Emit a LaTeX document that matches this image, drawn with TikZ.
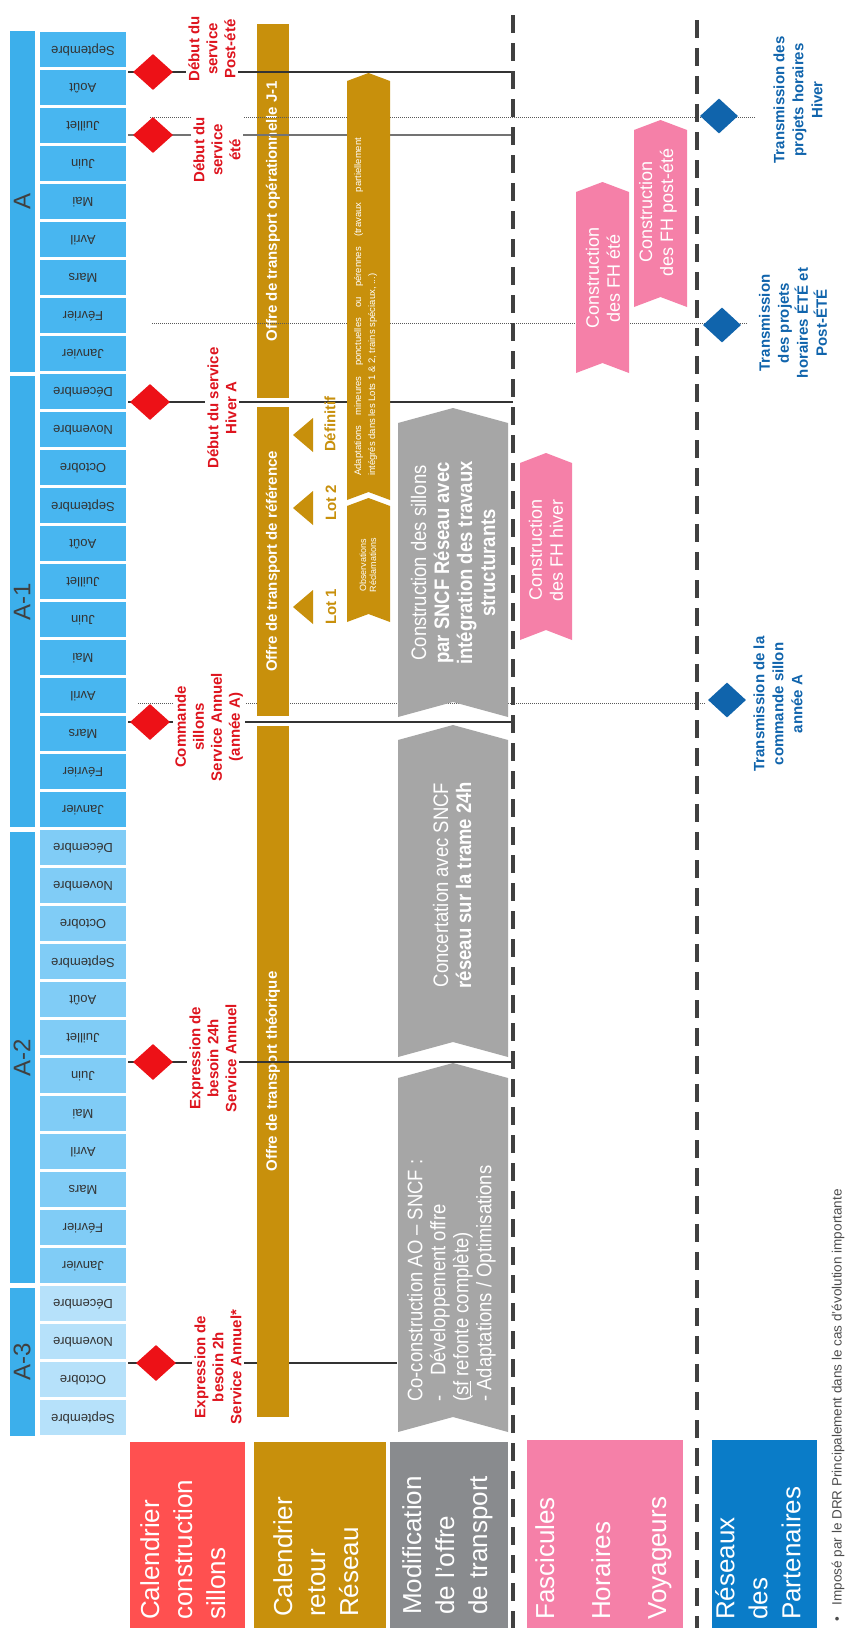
\documentclass[tikz,border=0pt]{standalone}
\usepackage{fontspec}
\setmainfont{Liberation Sans}
\newfontfamily\narrowfont[FakeStretch=0.88]{Liberation Sans}
\usepackage{xcolor}
\usepackage{tikz}
\usetikzlibrary{shapes.geometric}

\definecolor{yearblue}{RGB}{60,175,235}
\definecolor{montha}{RGB}{72,182,240}
\definecolor{monthb}{RGB}{128,204,246}
\definecolor{monthc}{RGB}{182,225,250}
\definecolor{offregold}{RGB}{200,144,12}
\definecolor{chevgrey}{RGB}{166,166,166}
\definecolor{boxgrey}{RGB}{137,139,142}
\definecolor{fhpink}{RGB}{245,128,168}
\definecolor{rowred}{RGB}{255,80,80}
\definecolor{rowblue}{RGB}{10,124,200}
\definecolor{diared}{RGB}{237,17,23}
\definecolor{labred}{RGB}{222,20,30}
\definecolor{diablue}{RGB}{16,100,172}
\definecolor{sepgrey}{RGB}{64,64,64}

% chevron pointing up: colour, x left, x right, y tip, y bottom, depth
\newcommand{\chevronup}[6]{%
  \fill[#1] (#2,#4+#6) -- ({(#2+#3)/2},#4) -- (#3,#4+#6) -- (#3,#5) -- ({(#2+#3)/2},#5-#6) -- (#2,#5) -- cycle;}

\def\monthlist{{"Septembre","Octobre","Novembre","Décembre","Janvier","Février","Mars","Avril","Mai","Juin","Juillet","Août"}}

\begin{document}
\begin{tikzpicture}[x=1pt, y=-1pt,
    tline/.style={line width=1.3pt, black!80},
    dotline/.style={line width=1pt, black!65, densely dotted},
    sepline/.style={line width=4.5pt, sepgrey, dash pattern=on 18pt off 10pt},
    month/.style={rotate=180, font=\fontsize{13}{13}\selectfont, text=black!80},
    yearbar/.style={rotate=90, fill=yearblue, minimum height=25, inner sep=0, font=\fontsize{24}{24}\selectfont, text=black!75},
    goldbar/.style={rotate=90, fill=offregold, minimum height=32, inner sep=0, text=white, font=\bfseries\fontsize{15}{15}\selectfont},
    reddia/.style={diamond, fill=diared, minimum width=40, minimum height=36, inner sep=0},
    bluedia/.style={diamond, fill=diablue, minimum width=38, minimum height=35, inner sep=0},
    redlab/.style={rotate=90, fill=white, inner sep=2pt, align=center, text=labred, font=\bfseries\fontsize{15}{18}\selectfont},
    bluelab/.style={rotate=90, inner sep=2pt, align=center, text=diablue, font=\bfseries\fontsize{15}{19}\selectfont},
    rowlab/.style={rotate=90, anchor=north west, inner sep=0, align=left, text=white, font=\fontsize{26}{33}\selectfont},
    greytext/.style={rotate=90, text=white, font=\narrowfont\fontsize{21}{23}\selectfont},
    pinktext/.style={rotate=90, text=white, align=center, font=\fontsize{18}{21}\selectfont},
    goldtext/.style={rotate=90, text=offregold, font=\bfseries\fontsize{15}{15}\selectfont}]

    % Canvas
    \useasboundingbox (0,0) rectangle (847,1628);
    \fill[white] (0,0) rectangle (847,1628);

    % Draw the month cells
    \foreach \k in {0,...,36} {
        \pgfmathtruncatemacro{\yb}{1437-38*\k}
        \pgfmathtruncatemacro{\mi}{mod(\k,12)}
        \ifnum\k<4 \def\mcol{monthc}\else\ifnum\k<16 \def\mcol{monthb}\else\def\mcol{montha}\fi\fi
        \fill[\mcol] (40,\yb-37) rectangle (126,\yb-2);
        \pgfmathparse{\monthlist[\mi]}\let\mname\pgfmathresult
        \node[month] (m\k) at (83,\yb-19) {\mname};
    }

    % Draw the years
    \node[yearbar, minimum width=341] (yA) at (22,201.5) {A};
    \node[yearbar, minimum width=451] (yA1) at (22,601.5) {A-1};
    \node[yearbar, minimum width=451] (yA2) at (22,1057.5) {A-2};
    \node[yearbar, minimum width=148] (yA3) at (22,1362) {A-3};

    % Line behind the first bar
    \coordinate (s2h) at (128,1363);
    \coordinate (e2h) at (397,1363);
    \draw[tline] (s2h) -- (e2h);
    \coordinate (dcs) at (138,703);
    \coordinate (dce) at (705,703);
    \draw[dotline] (dcs) -- (dce);

    % Draw the transport offer bars
    \node[goldbar, minimum width=374] (opj) at (273,211) {Offre de transport opérationnelle J-1};
    \node[goldbar, minimum width=309] (ref) at (273,561.5) {Offre de transport de référence};
    \node[goldbar, minimum width=691] (theo) at (273,1071.5) {Offre de transport théorique};

    % Draw the time lines
    \coordinate (spe) at (128,72);    \coordinate (epe) at (513,72);
    \coordinate (set) at (128,135);   \coordinate (eet) at (513,135);
    \coordinate (shi) at (128,402);   \coordinate (ehi) at (513,402);
    \coordinate (sco) at (128,722);   \coordinate (eco) at (513,722);
    \coordinate (s24) at (128,1062);  \coordinate (e24) at (513,1062);
    \draw[tline] (spe) -- (epe);
    \draw[tline, black!55] (set) -- (eet);
    \draw[tline] (shi) -- (ehi);
    \draw[tline] (sco) -- (eco);
    \draw[tline] (s24) -- (e24);

    % Dotted lines to the partner networks
    \coordinate (dhs) at (150,117);
    \coordinate (dhe) at (755,117);
    \coordinate (des) at (152,323);
    \coordinate (dee) at (747,323);
    \draw[dotline] (dhs) -- (dhe);
    \draw[dotline] (des) -- (dee);

    % Draw the separators
    \coordinate (sa1) at (513,15);  \coordinate (sa2) at (513,1628);
    \coordinate (sb1) at (697,20);  \coordinate (sb2) at (697,1628);
    \draw[sepline] (sa1) -- (sa2);
    \draw[sepline] (sb1) -- (sb2);

    % Lots
    \fill[offregold] (293,607) -- (313,590) -- (313,624) -- cycle;
    \fill[offregold] (293,508) -- (313,491) -- (313,525) -- cycle;
    \fill[offregold] (293,435) -- (313,418) -- (313,452) -- cycle;
    \node[goldtext] (lot1) at (331,607) {Lot 1};
    \node[goldtext] (lot2) at (331,503) {Lot 2};
    \node[goldtext] (def) at (330,424) {Définitif};

    % Golden chevrons
    \chevronup{offregold}{347}{390}{498}{622}{8}
    \chevronup{offregold}{347}{390}{73}{500}{8}
    \node[rotate=90, align=center, text=white, font=\fontsize{9}{10}\selectfont] (obs) at (368,565) {Observations\\Réclamations};
    \node[rotate=90, anchor=north west, inner sep=0, align=left, text=white, font=\fontsize{9.5}{14}\selectfont] (adapt) at (354,476)
        {\makebox[338pt][s]{Adaptations mineures ponctuelles ou pérennes (travaux partiellement}\\intégrés dans les Lots 1 \& 2, trains spéciaux, ...)};

    % Grey chevrons
    \chevronup{chevgrey}{398}{508}{1063}{1432}{15}
    \chevronup{chevgrey}{398}{508}{725}{1057}{15}
    \chevronup{chevgrey}{398}{508}{408}{717}{15}
    \node[greytext, anchor=north west, inner sep=0, align=left] (coco) at (407,1402)
        {Co-construction AO – SNCF :\\-\hspace{20pt}Développement offre\\(\underline{sf} refonte complète)\\- Adaptations / Optimisations};
    \node[greytext, align=center] (concert) at (452,885) {Concertation avec SNCF\\\textbf{réseau sur la trame 24h}};
    \node[greytext, align=center] (constr) at (453,563)
        {Construction des sillons\\\textbf{par SNCF Réseau avec}\\\textbf{intégration des travaux}\\\textbf{structurants}};

    % Pink chevrons
    \chevronup{fhpink}{520}{572}{453}{640}{10}
    \chevronup{fhpink}{576}{629}{182}{373}{10}
    \chevronup{fhpink}{634}{687}{120}{307}{10}
    \node[pinktext] (fhh) at (546,550) {Construction\\des FH hiver};
    \node[pinktext] (fhe) at (603,278) {Construction\\des FH été};
    \node[pinktext] (fhp) at (658,212) {Construction\\des FH post-été};

    % Place the milestones
    \node[reddia] (d2h) at (156,1363) {};
    \node[reddia] (d24) at (153,1062) {};
    \node[reddia] (dco) at (150,722) {};
    \node[reddia] (dhi) at (150,402) {};
    \node[reddia] (det) at (153,135) {};
    \node[reddia] (dpe) at (153,72) {};
    \node[bluedia] (bhi) at (719,116) {};
    \node[bluedia] (bet) at (722,325) {};
    \node[bluedia] (bco) at (727,700) {};

    % Milestone labels
    \node[redlab] (l2h) at (218,1367) {Expression de\\besoin 2h\\Service Annuel*};
    \node[redlab] (l24) at (213,1058) {Expression de\\besoin 24h\\Service Annuel};
    \node[redlab] (lco) at (209,727) {Commande\\sillons\\Service Annuel\\(année A)};
    \node[redlab] (lhi) at (222,408) {Début du service\\Hiver A};
    \node[redlab] (let) at (217,150) {Début du\\service\\été};
    \node[redlab] (lpe) at (212,49) {Début du\\service\\Post-été};
    \node[bluelab] (thi) at (798,100) {Transmission des\\projets horaires\\Hiver};
    \node[bluelab] (tet) at (793,323) {Transmission\\des projets\\horaires ÉTÉ et\\Post-ÉTÉ};
    \node[bluelab] (tco) at (778,704) {Transmission de la\\commande sillon\\année A};

    % Row headers
    \fill[rowred] (130,1442) rectangle (245,1628);
    \fill[offregold] (254,1442) rectangle (386,1628);
    \fill[boxgrey] (390,1442) rectangle (508,1628);
    \fill[fhpink] (527,1440) rectangle (683,1628);
    \fill[rowblue] (712,1440) rectangle (817,1628);
    \node[rowlab] (rsil) at (140,1620) {Calendrier\\construction\\sillons};
    \node[rowlab] (rret) at (273,1617) {Calendrier\\retour\\Réseau};
    \node[rowlab] (rmod) at (402,1615) {Modification\\de l'offre\\de transport};
    \node[rowlab, font=\fontsize{26}{56}\selectfont] (rfas) at (535,1620) {Fascicules\\Horaires\\Voyageurs};
    \node[rowlab] (rres) at (715,1620) {Réseaux\\des\\Partenaires};

    % Footnote
    \node[rotate=90, anchor=west, inner sep=0, text=black!70, font=\fontsize{13.5}{13.5}\selectfont] (note) at (838,1622)
        {\textbullet\hspace{12pt}Imposé par le DRR Principalement dans le cas d'évolution importante};
\end{tikzpicture}
\end{document}
